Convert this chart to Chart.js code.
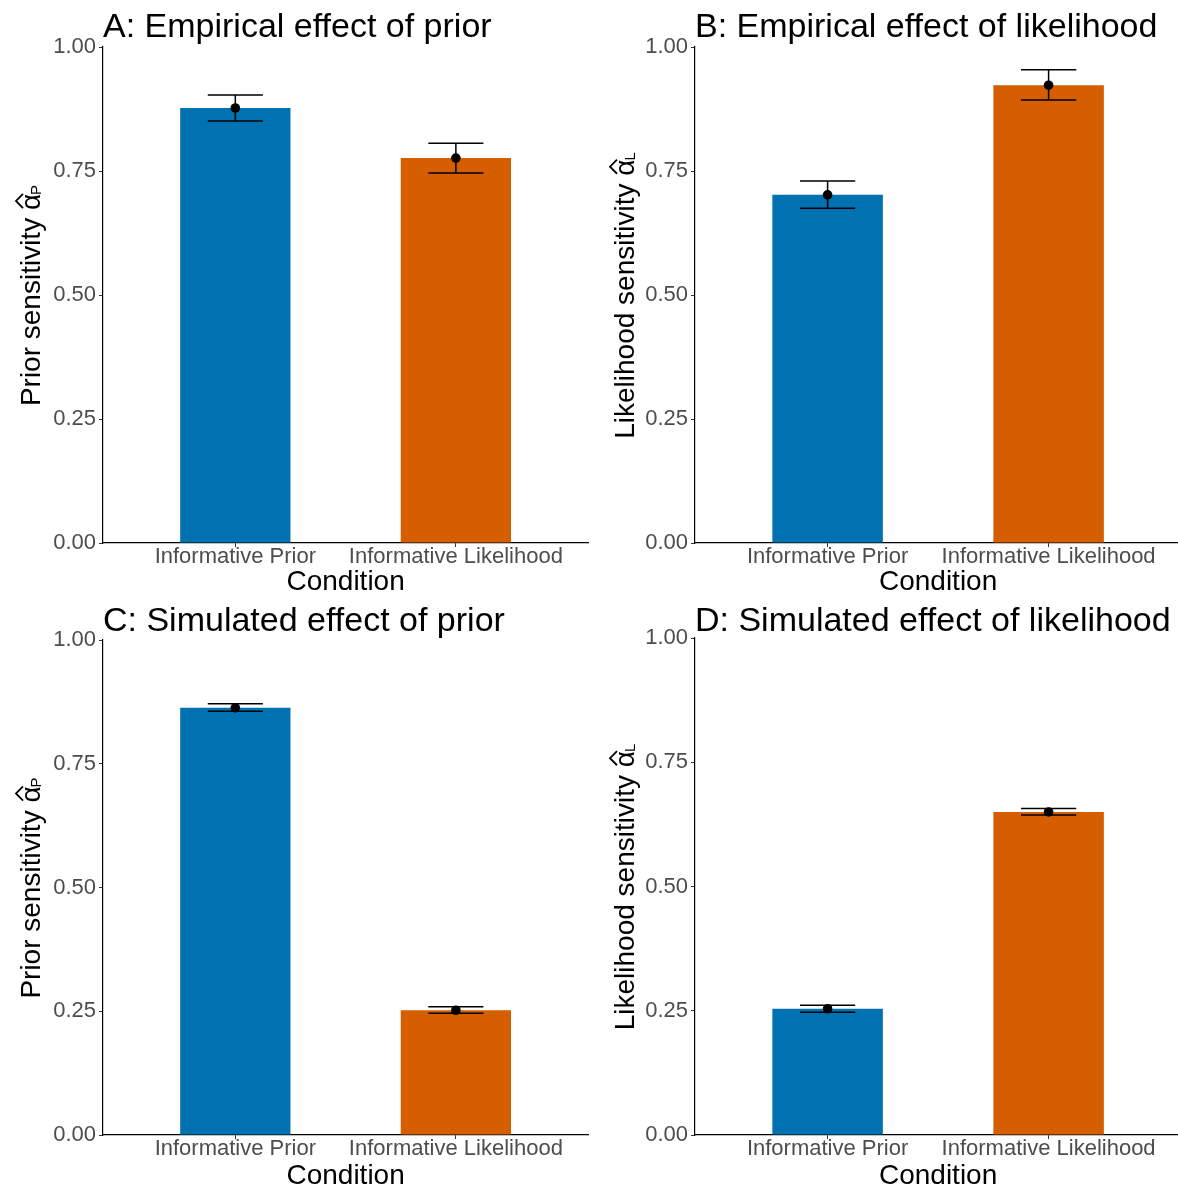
<!DOCTYPE html>
<html>
<head>
<meta charset="utf-8">
<script src="https://cdn.jsdelivr.net/npm/chart.js@4.4.1/dist/chart.umd.min.js"></script>
<style>
  body { margin: 0; background: #fff; overflow: hidden; }
  #wrap { position: relative; width: 1178px; height: 1188px; overflow: hidden; }
  .panel { position: absolute; height: 594px; }
</style>
</head>
<body>
<div id="wrap">
  <div class="panel" style="left:0;top:0"><canvas id="chartA" width="593" height="594"></canvas></div>
  <div class="panel" style="left:589px;top:0"><canvas id="chartB" width="597" height="594"></canvas></div>
  <div class="panel" style="left:0;top:594px"><canvas id="chartC" width="593" height="594"></canvas></div>
  <div class="panel" style="left:589px;top:594px"><canvas id="chartD" width="597" height="594"></canvas></div>
</div>
<script>
// categories and colours
const conditions = ['Informative Prior', 'Informative Likelihood'];
const barColors = ['#0072B2', '#D55E00'];
const yTickValues = [0, 0.25, 0.5, 0.75, 1];

// A: empirical effect of prior
const empPriorMean = [0.877, 0.776];
const empPriorLow = [0.851, 0.746];
const empPriorHigh = [0.903, 0.806];

// B: empirical effect of likelihood
const empLikMean = [0.702, 0.923];
const empLikLow = [0.675, 0.893];
const empLikHigh = [0.730, 0.954];

// C: simulated effect of prior
const simPriorMean = [0.863, 0.252];
const simPriorLow = [0.856, 0.246];
const simPriorHigh = [0.871, 0.259];

// D: simulated effect of likelihood
const simLikMean = [0.254, 0.650];
const simLikLow = [0.247, 0.644];
const simLikHigh = [0.261, 0.657];

const FONT = '"Liberation Sans", Arial, Helvetica, sans-serif';

// error bars, panel title and axis titles
const decorations = {
  id: 'decorations',
  afterDatasetsDraw(chart, args, opts) {
    const ctx = chart.ctx;
    const x = chart.scales.x, y = chart.scales.y;
    const half = x.getPixelForValue(1.125) - x.getPixelForValue(1);
    ctx.save();
    ctx.strokeStyle = '#000';
    ctx.lineWidth = 1.5;
    opts.lows.forEach((lo, i) => {
      const px = x.getPixelForValue(i + 1);
      const yl = y.getPixelForValue(lo);
      const yh = y.getPixelForValue(opts.highs[i]);
      ctx.beginPath();
      ctx.moveTo(px, yl); ctx.lineTo(px, yh);
      ctx.moveTo(px - half, yl); ctx.lineTo(px + half, yl);
      ctx.moveTo(px - half, yh); ctx.lineTo(px + half, yh);
      ctx.stroke();
    });
    ctx.restore();
  },
  afterDraw(chart, args, opts) {
    const ctx = chart.ctx;
    const area = chart.chartArea;
    ctx.save();
    ctx.fillStyle = '#000';
    ctx.strokeStyle = '#000';
    ctx.textBaseline = 'alphabetic';

    // panel title
    ctx.font = '34px ' + FONT;
    ctx.textAlign = 'left';
    ctx.fillText(opts.title, area.left, 37);

    // x title
    ctx.font = '28px ' + FONT;
    ctx.textAlign = 'center';
    ctx.fillText('Condition', (area.left + area.right) / 2, 590);

    // y title with hat alpha and subscript
    ctx.textAlign = 'left';
    ctx.translate(opts.yBase, (area.top + area.bottom) / 2);
    ctx.rotate(-Math.PI / 2);
    ctx.font = '28px ' + FONT;
    const main = opts.yMain + ' ';
    const wMain = ctx.measureText(main).width;
    const wAlpha = ctx.measureText('\u03B1').width;
    ctx.font = '15px ' + FONT;
    const wSub = ctx.measureText(opts.ySub).width;
    const x0 = -(wMain + wAlpha + wSub) / 2;
    ctx.font = '28px ' + FONT;
    ctx.fillText(main, x0, 0);
    ctx.fillText('\u03B1', x0 + wMain, 0);
    const ax = x0 + wMain;
    ctx.lineWidth = 1.8;
    ctx.beginPath();
    ctx.moveTo(ax + 2, -17);
    ctx.lineTo(ax + wAlpha / 2 + 1, -24);
    ctx.lineTo(ax + wAlpha, -17);
    ctx.stroke();
    ctx.font = '15px ' + FONT;
    ctx.fillText(opts.ySub, ax + wAlpha - 1, 1);
    ctx.restore();
  }
};

function makeChart(id, cfg) {
  new Chart(document.getElementById(id), {
    data: {
      datasets: [
        {
          type: 'scatter',
          data: cfg.means.map((v, i) => ({ x: i + 1, y: v })),
          pointRadius: 4.8,
          pointBackgroundColor: '#000',
          pointBorderWidth: 0,
          order: 0
        },
        {
          type: 'bar',
          data: cfg.means.map((v, i) => ({ x: i + 1, y: v })),
          backgroundColor: barColors,
          borderWidth: 0,
          categoryPercentage: 1,
          barPercentage: 0.5,
          order: 1
        }
      ]
    },
    options: {
      responsive: false,
      animation: false,
      layout: { padding: { top: cfg.top, right: 1, left: 0, bottom: 0 } },
      plugins: {
        legend: { display: false },
        tooltip: { enabled: false },
        decorations: {
          lows: cfg.lows, highs: cfg.highs, title: cfg.title,
          yMain: cfg.yMain, ySub: cfg.ySub, yBase: cfg.yBase
        }
      },
      scales: {
        x: {
          type: 'linear',
          offset: false,
          min: 0.4,
          max: 2.6,
          afterBuildTicks: s => { s.ticks = conditions.map((c, i) => ({ value: i + 1 })); },
          afterFit: s => { s.height = 594 - cfg.bottom; },
          ticks: {
            callback: v => conditions[v - 1],
            color: '#4D4D4D',
            font: { size: 22, family: FONT },
            padding: -3,
            maxRotation: 0,
            autoSkip: false
          },
          grid: { drawOnChartArea: false, drawTicks: true, tickLength: 4, color: '#333', offset: false },
          border: { display: true, color: '#000', width: 1.2 }
        },
        y: {
          min: 0,
          max: 1,
          afterBuildTicks: s => { s.ticks = yTickValues.map(v => ({ value: v })); },
          afterFit: s => { s.width = cfg.left; },
          ticks: {
            callback: v => v.toFixed(2),
            color: '#4D4D4D',
            font: { size: 22, family: FONT },
            padding: 3
          },
          grid: { drawOnChartArea: false, drawTicks: true, tickLength: 4, color: '#333' },
          border: { display: true, color: '#000', width: 1.2 }
        }
      }
    },
    plugins: [decorations]
  });
}

makeChart('chartA', {
  title: 'A: Empirical effect of prior', yMain: 'Prior sensitivity', ySub: 'P',
  means: empPriorMean, lows: empPriorLow, highs: empPriorHigh,
  left: 103, top: 47, bottom: 543, yBase: 40
});
makeChart('chartB', {
  title: 'B: Empirical effect of likelihood', yMain: 'Likelihood sensitivity', ySub: 'L',
  means: empLikMean, lows: empLikLow, highs: empLikHigh,
  left: 106, top: 47, bottom: 543, yBase: 45
});
makeChart('chartC', {
  title: 'C: Simulated effect of prior', yMain: 'Prior sensitivity', ySub: 'P',
  means: simPriorMean, lows: simPriorLow, highs: simPriorHigh,
  left: 103, top: 46, bottom: 541, yBase: 40
});
makeChart('chartD', {
  title: 'D: Simulated effect of likelihood', yMain: 'Likelihood sensitivity', ySub: 'L',
  means: simLikMean, lows: simLikLow, highs: simLikHigh,
  left: 106, top: 44, bottom: 541, yBase: 45
});
</script>
</body>
</html>
